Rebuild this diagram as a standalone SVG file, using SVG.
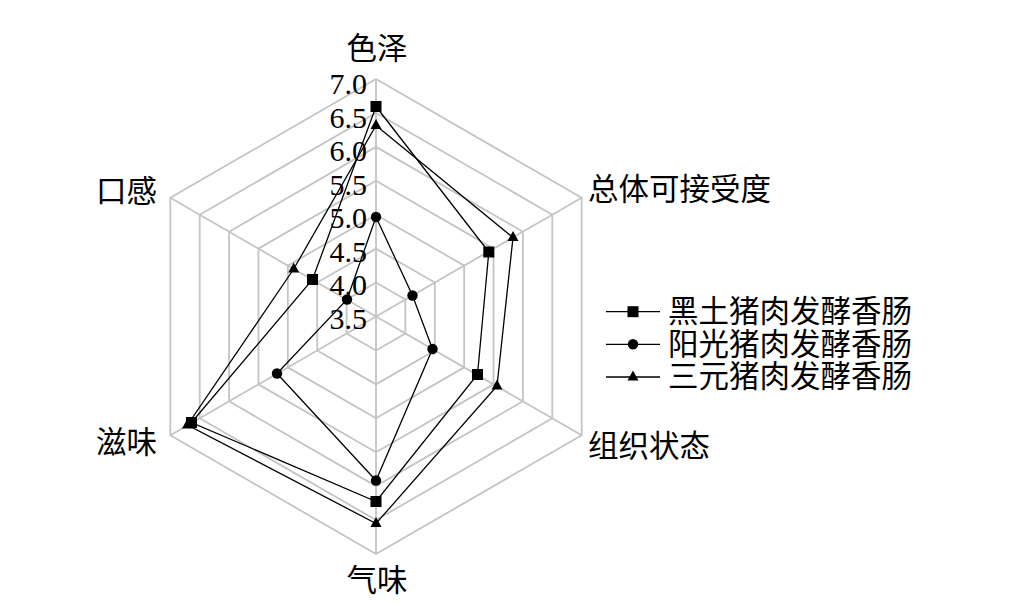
<svg xmlns="http://www.w3.org/2000/svg" width="1030" height="606" viewBox="0 0 1030 606">
<style>
.grid{fill:none;stroke:#c4c4c4;stroke-width:1.8}
.ser{fill:none;stroke:#000;stroke-width:1.3;stroke-linejoin:miter}
.lbl{font-family:"Liberation Serif","Noto Sans CJK SC",serif;font-size:30.5px;fill:#000}
.num{font-family:"Liberation Serif","Times New Roman",serif;font-size:30px;fill:#000;text-anchor:end}
</style>
<defs>
<rect id="sq" x="-5.5" y="-5.5" width="11" height="11"/>
<circle id="ci" r="5.2"/>
<polygon id="tr" points="0,-6.5 5.5,3.5 -5.5,3.5"/>
</defs>
<rect width="1030" height="606" fill="#fff"/>
<g id="grid">
<polygon class="grid" points="376,282.54 405.38,299.54 405.38,333.46 376,350.43 346.62,333.46 346.62,299.54"/>
<polygon class="grid" points="376,248.64 434.77,282.57 434.77,350.43 376,384.36 317.23,350.43 317.23,282.57"/>
<polygon class="grid" points="376,214.71 464.15,265.61 464.15,367.39 376,418.29 287.85,367.39 287.85,265.61"/>
<polygon class="grid" points="376,180.79 493.53,248.64 493.53,384.36 376,452.21 258.47,384.36 258.47,248.64"/>
<polygon class="grid" points="376,146.86 522.91,231.68 522.91,401.32 376,486.14 229.09,401.32 229.09,231.68"/>
<polygon class="grid" points="376,112.93 552.3,214.71 552.3,418.29 376,520.07 199.7,418.29 199.7,214.71"/>
<polygon class="grid" points="376,79 581.68,197.75 581.68,435.25 376,554 170.32,435.25 170.32,197.75"/>
<path class="grid" d="M376,316.5V79M376,316.5L581.68,197.75M376,316.5L581.68,435.25M376,316.5V554M376,316.5L170.32,435.25M376,316.5L170.32,197.75"/>
</g>
<g id="axis-values">
<text class="num" x="367" y="94">7.0</text>
<text class="num" x="367" y="127.5">6.5</text>
<text class="num" x="367" y="161">6.0</text>
<text class="num" x="367" y="194.5">5.5</text>
<text class="num" x="367" y="228">5.0</text>
<text class="num" x="367" y="261.5">4.5</text>
<text class="num" x="367" y="295">4.0</text>
<text class="num" x="367" y="328.5">3.5</text>
</g>
<g id="axis-labels">
<text class="lbl" x="377" y="59" text-anchor="middle">色泽</text>
<text class="lbl" x="588" y="200">总体可接受度</text>
<text class="lbl" x="588" y="457">组织状态</text>
<text class="lbl" x="377" y="591" text-anchor="middle">气味</text>
<text class="lbl" x="157" y="453" text-anchor="end">滋味</text>
<text class="lbl" x="157" y="202" text-anchor="end">口感</text>
</g>
<g id="connectors">
<polygon class="ser" points="376,106.5 488.8,252 477.5,374.5 376,501.5 191.5,422.5 312.5,279.5"/>
<polygon class="ser" points="376,217 412.5,295.5 432.5,349 376,480.5 277,373.5 347,299.5"/>
<polygon class="ser" points="376,125.5 513,237.5 497,386 376,523.5 187.5,425 293.7,269"/>
</g>
<g id="series-heitu">
<use href="#sq" x="376" y="106.5"/><use href="#sq" x="488.8" y="252"/><use href="#sq" x="477.5" y="374.5"/>
<use href="#sq" x="376" y="501.5"/><use href="#sq" x="191.5" y="422.5"/><use href="#sq" x="312.5" y="279.5"/>
</g>
<g id="series-yangguang">
<use href="#ci" x="376" y="217"/><use href="#ci" x="412.5" y="295.5"/><use href="#ci" x="432.5" y="349"/>
<use href="#ci" x="376" y="480.5"/><use href="#ci" x="277" y="373.5"/><use href="#ci" x="347" y="299.5"/>
</g>
<g id="series-sanyuan">
<use href="#tr" x="376" y="125.5"/><use href="#tr" x="513" y="237.5"/><use href="#tr" x="497" y="386"/>
<use href="#tr" x="376" y="523.5"/><use href="#tr" x="187.5" y="425"/><use href="#tr" x="293.7" y="269"/>
</g>
<g id="legend">
<path stroke="#000" stroke-width="1.3" d="M606,311.7H660M606,344.3H660M606,377H660"/>
<use href="#sq" x="633" y="311.7"/>
<use href="#ci" x="633" y="344.3"/>
<use href="#tr" x="633" y="377"/>
<text class="lbl" x="668" y="322">黑土猪肉发酵香肠</text>
<text class="lbl" x="668" y="354.5">阳光猪肉发酵香肠</text>
<text class="lbl" x="668" y="387">三元猪肉发酵香肠</text>
</g>
</svg>
